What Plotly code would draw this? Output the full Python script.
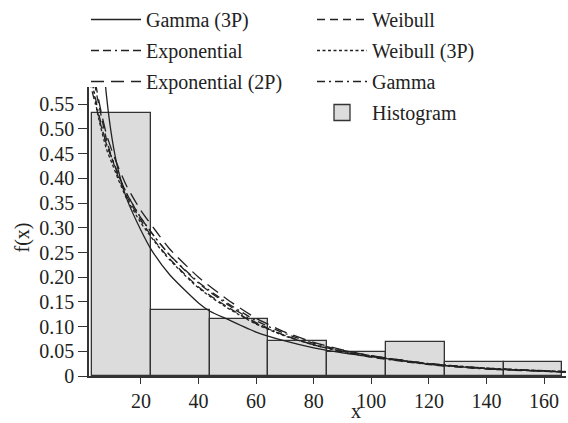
import numpy as np
import plotly.graph_objects as go

# ---- histogram data ----
bin_edges = [3.1, 23.5, 43.9, 64.3, 84.7, 105.1, 125.5, 145.9, 166.3]
bin_heights = [0.533, 0.1335, 0.115, 0.0708, 0.049, 0.068, 0.029, 0.029]

# ---- fitted density curves ----
x_gamma3p = [7.0, 8.0, 10, 12, 15, 20, 23.7, 30, 40, 44, 50, 60, 70, 80, 90, 100, 120, 140, 167.6]
y_gamma3p = [0.64, 0.57, 0.48, 0.42, 0.36, 0.295, 0.255, 0.205, 0.148, 0.131, 0.115, 0.089, 0.071, 0.057, 0.047, 0.039, 0.024, 0.015, 0.008]

x_weibull = [3, 5, 8, 10, 12, 15, 20, 25, 30, 40, 50, 60, 70, 80, 90, 100, 120, 140, 167.6]
y_weibull = [0.62, 0.56, 0.48, 0.44, 0.405, 0.365, 0.315, 0.272, 0.237, 0.180, 0.140, 0.106, 0.082, 0.063, 0.050, 0.039, 0.024, 0.015, 0.008]

x_expon = [2, 4, 6, 8, 10, 12, 15, 20, 25, 30, 40, 50, 60, 70, 80, 90, 100, 120, 140, 167.6]
y_expon = [0.60, 0.555, 0.51, 0.47, 0.44, 0.41, 0.37, 0.32, 0.28, 0.245, 0.188, 0.145, 0.108, 0.082, 0.063, 0.049, 0.038, 0.023, 0.014, 0.008]

x_weibull3p = [3, 5, 8, 10, 12, 15, 20, 25, 30, 40, 50, 60, 70, 80, 90, 100, 120, 140, 167.6]
y_weibull3p = [0.60, 0.53, 0.46, 0.43, 0.40, 0.36, 0.31, 0.27, 0.235, 0.178, 0.138, 0.105, 0.081, 0.063, 0.050, 0.040, 0.025, 0.016, 0.009]

x_expon2p = [4, 6, 8, 10, 12, 15, 20, 25, 30, 40, 50, 60, 70, 80, 90, 100, 120, 140, 167.6]
y_expon2p = [0.60, 0.54, 0.49, 0.455, 0.425, 0.385, 0.335, 0.295, 0.257, 0.200, 0.155, 0.117, 0.089, 0.068, 0.053, 0.041, 0.025, 0.015, 0.008]

x_gamma = [3, 5, 8, 10, 12, 15, 20, 25, 30, 40, 50, 60, 70, 80, 90, 100, 120, 140, 167.6]
y_gamma = [0.60, 0.54, 0.47, 0.44, 0.41, 0.37, 0.32, 0.28, 0.245, 0.190, 0.148, 0.112, 0.086, 0.066, 0.052, 0.041, 0.025, 0.016, 0.009]

y_tickvals = [0, 0.05, 0.10, 0.15, 0.20, 0.25, 0.30, 0.35, 0.40, 0.45, 0.50, 0.55]
y_ticktext = ["0", "0.05", "0.10", "0.15", "0.20", "0.25", "0.30", "0.35", "0.40", "0.45", "0.50", "0.55"]
x_tickvals = [20, 40, 60, 80, 100, 120, 140, 160]

FONT = "Liberation Serif"
INK = "#222222"
AX = "#333333"

edges = np.array(bin_edges)
centers = (edges[:-1] + edges[1:]) / 2
widths = np.diff(edges)

fig = go.Figure()

fig.add_trace(go.Bar(x=centers, y=bin_heights, width=widths,
                     marker=dict(color="#dcdcdc", line=dict(color=AX, width=1.3)),
                     showlegend=False, hoverinfo="skip"))

curves = [
    ("Gamma (3P)", x_gamma3p, y_gamma3p, "solid", "legend"),
    ("Exponential", x_expon, y_expon, "8px,4px,8px,4px,2px,4px", "legend"),
    ("Exponential (2P)", x_expon2p, y_expon2p, "13px,7px", "legend"),
    ("Weibull", x_weibull, y_weibull, "8px,5px", "legend2"),
    ("Weibull (3P)", x_weibull3p, y_weibull3p, "3px,2.5px", "legend2"),
    ("Gamma", x_gamma, y_gamma, "8px,4px,2px,4px", "legend2"),
]
for name, xs, ys, dash, lg in curves:
    fig.add_trace(go.Scatter(x=xs, y=ys, mode="lines", name=name,
                             line=dict(color=INK, width=1.3, dash=dash, shape="spline", smoothing=0.6),
                             legend=lg, legendgroup=name))

# histogram legend entry
fig.add_trace(go.Scatter(x=[None], y=[None], mode="markers", name="Histogram",
                         marker=dict(symbol="square", size=17, color="#dcdcdc",
                                     line=dict(color=AX, width=1.3)),
                         legend="legend2", legendgroup="Histogram"))

legend_common = dict(font=dict(family=FONT, size=20, color=INK), bgcolor="rgba(0,0,0,0)",
                     itemwidth=50, tracegroupgap=2, xref="container", yref="container",
                     xanchor="left", yanchor="top")

fig.update_layout(
    width=568, height=423,
    margin=dict(l=89, r=2, t=87, b=47, autoexpand=False),
    paper_bgcolor="white", plot_bgcolor="white",
    font=dict(family=FONT, size=20, color=INK),
    barmode="overlay", bargap=0,
    legend=dict(x=86 / 568, y=1 + 5 / 423, **legend_common),
    legend2=dict(x=312 / 568, y=1 + 5 / 423, **legend_common),
    xaxis=dict(range=[1.98, 167.6], tickvals=x_tickvals, ticks="outside", ticklen=6,
               tickwidth=1.3, tickcolor=AX, showline=True, linecolor=AX, linewidth=1.5,
               showgrid=False, zeroline=False, tickfont=dict(family=FONT, size=20, color=INK)),
    yaxis=dict(range=[0, 0.585], tickvals=y_tickvals, ticktext=y_ticktext, ticks="outside",
               ticklen=9, tickwidth=1.3, tickcolor=AX, showline=True, linecolor=AX, linewidth=1.5,
               showgrid=False, zeroline=False, tickfont=dict(family=FONT, size=20, color=INK)),
    annotations=[
        dict(text="x", xref="paper", yref="paper", x=0.559, y=-0.122, showarrow=False,
             xanchor="center", yanchor="middle", font=dict(family=FONT, size=20, color=INK)),
        dict(text="f(x)", xref="paper", yref="paper", x=-0.14, y=0.48, showarrow=False,
             textangle=-90, xanchor="center", yanchor="middle",
             font=dict(family=FONT, size=20, color=INK)),
    ],
)

fig.write_html("out.html")
